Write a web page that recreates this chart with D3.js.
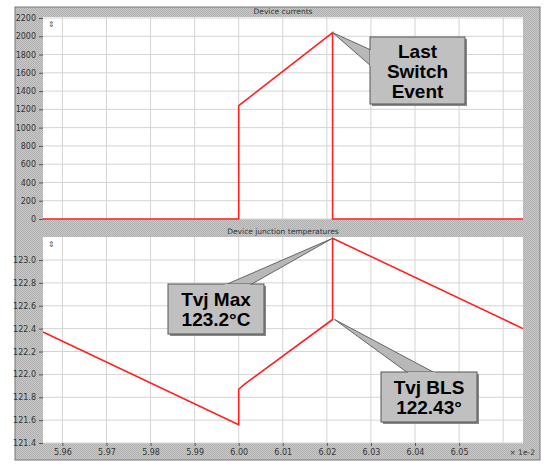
<!DOCTYPE html><html><head><script src="https://cdn.jsdelivr.net/npm/d3@7"></script>
<style>body{margin:0;background:#fff}</style></head><body>
<svg id="c" width="550" height="466" font-family="DejaVu Sans"></svg>
<script>
const currX=[5.9556,6.0,6.0,6.0213,6.0213,6.0645];
const currY=[0,0,1240,2040,0,0];
const tempX=[5.9556,6.0,6.0,6.0012,6.0213,6.0213,6.0645];
const tempY=[122.37,121.56,121.87,121.91,122.48,123.19,122.40];
const xTicks=[5.96,5.97,5.98,5.99,6.00,6.01,6.02,6.03,6.04,6.05,6.06];
const curTicks=d3.range(0,2201,200);
const tempTicks=[121.4,121.6,121.8,122.0,122.2,122.4,122.6,122.8,123.0];
const svg=d3.select("#c");
const defs=svg.append("defs");
const p=defs.append("pattern").attr("id","dith").attr("width",2).attr("height",2).attr("patternUnits","userSpaceOnUse");
p.append("rect").attr("width",2).attr("height",2).attr("fill","#c8c8c8");
p.append("rect").attr("width",1).attr("height",1).attr("fill","#b0b0b0");
p.append("rect").attr("x",1).attr("y",1).attr("width",1).attr("height",1).attr("fill","#b0b0b0");
svg.append("rect").attr("x",15).attr("y",7).attr("width",525).attr("height",453).attr("fill","url(#dith)").attr("stroke","#777");
const x=d3.scaleLinear().domain([5.9556,6.0645]).range([43,523]);
const yC=d3.scaleLinear().domain([0,2200]).range([219,18]);
const yT=d3.scaleLinear().domain([121.4,123.0]).range([443,260]);
function panel(y,top,bottom,ticks,fmt,xs,ys,title){
  svg.append("rect").attr("x",43).attr("y",top).attr("width",480).attr("height",bottom-top).attr("fill","#fff");
  const g=svg.append("g");
  g.selectAll(".v").data(xTicks).join("line").attr("x1",d=>x(d)).attr("x2",d=>x(d)).attr("y1",top).attr("y2",bottom).attr("stroke","#d4d4d4");
  g.selectAll(".h").data(ticks).join("line").attr("x1",43).attr("x2",523).attr("y1",d=>y(d)).attr("y2",d=>y(d)).attr("stroke","#d4d4d4");
  const ax=svg.append("g").attr("transform","translate(43,0)").call(d3.axisLeft(y).tickValues(ticks).tickFormat(fmt).tickSize(4));
  ax.select(".domain").remove();ax.attr("font-family","DejaVu Sans");
  ax.selectAll("text").attr("font-size",8).attr("fill","#333");ax.selectAll("line").attr("stroke","#555");
  svg.append("text").attr("x",283).attr("y",top-3).attr("text-anchor","middle").attr("font-size",7.5).attr("fill","#333").text(title);
  svg.append("path").attr("d",d3.line().x((d,i)=>x(xs[i])).y(d=>y(d))(ys)).attr("fill","none").attr("stroke","#ff2020").attr("stroke-width",1.6);
  svg.append("text").attr("x",48).attr("y",top+10).attr("font-size",8).attr("fill","#555").text("⇕");
}
panel(yC,17,219,curTicks,d3.format("d"),currX,currY,"Device currents");
panel(yT,237,443,tempTicks,d3.format(".1f"),tempX,tempY,"Device junction temperatures");
const xa=svg.append("g").attr("transform","translate(0,443)").call(d3.axisBottom(x).tickValues(xTicks.slice(0,10)).tickFormat(d3.format(".2f")).tickSize(3));
xa.select(".domain").remove();xa.attr("font-family","DejaVu Sans");xa.selectAll("text").attr("font-size",8).attr("fill","#333");xa.selectAll("line").attr("stroke","#555");
svg.append("text").attr("x",535).attr("y",455).attr("text-anchor","end").attr("font-size",7.5).attr("fill","#333").text("× 1e-2");
function callout(bx,by,bw,bh,px,py,b1,b2,lines){
  svg.append("path").attr("d",`M${b1[0]},${b1[1]}L${px},${py}L${b2[0]},${b2[1]}Z`).attr("fill","#b8b8b8").attr("stroke","#666");
  svg.append("rect").attr("x",bx+2).attr("y",by+2).attr("width",bw).attr("height",bh).attr("fill","#888");
  svg.append("rect").attr("x",bx).attr("y",by).attr("width",bw).attr("height",bh).attr("fill","#c0c0c0").attr("stroke","#555");
  svg.append("path").attr("d",`M${b1[0]},${b1[1]}L${b2[0]},${b2[1]}`).attr("stroke","#c0c0c0").attr("stroke-width",2);
  const lh=20, y0=by+bh/2-(lines.length-1)*lh/2+7;
  lines.forEach((t,i)=>svg.append("text").attr("x",bx+bw/2).attr("y",y0+i*lh).attr("text-anchor","middle").style("font-family","'Liberation Sans', Arial, sans-serif").attr("font-weight","bold").attr("font-size",19).attr("fill","#000").text(t));
}
callout(370,37,95,67,x(6.0213),yC(2040),[371,50],[371,66],["Last","Switch","Event"]);
callout(168,284,96,50,x(6.0213),yT(123.19),[225,285],[250,285],["Tvj Max","123.2°C"]);
callout(381,372,96,50,x(6.0213)+2,yT(122.48),[408,373],[435,373],["Tvj BLS","122.43°"]);
</script></body></html>
